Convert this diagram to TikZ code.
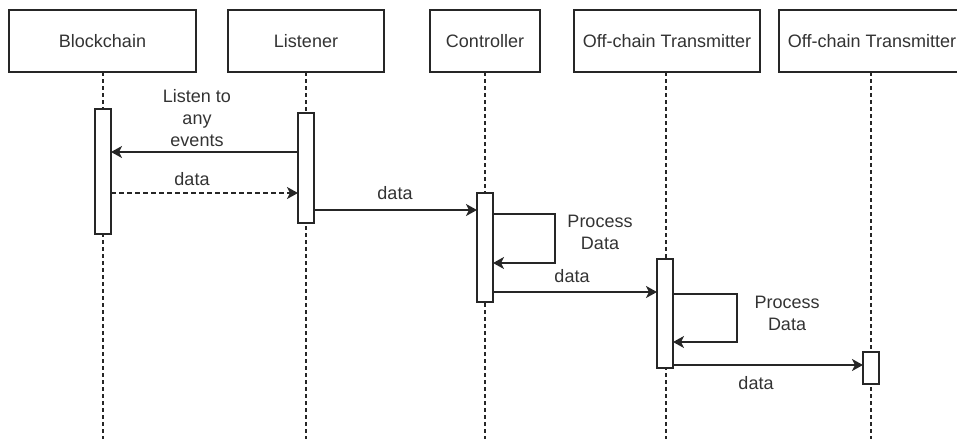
\documentclass[tikz,border=0pt]{standalone}
\usepackage{fontspec}
\setmainfont{Liberation Sans}
\usetikzlibrary{arrows.meta}
\begin{document}
\begin{tikzpicture}[x=1pt,y=-1pt,
  every node/.style={font=\fontsize{18}{22}\selectfont, text=black!80},
  header/.style={draw=black!85, line width=1.3pt, fill=white, minimum height=62pt, inner sep=0pt, outer sep=0pt},
  act/.style={draw=black!85, line width=1.3pt, fill=white, minimum width=16pt, inner sep=0pt, outer sep=0pt},
  life/.style={draw=black!85, line width=1.2pt, dash pattern=on 4pt off 3pt},
  arr/.style={draw=black!85, line width=1.5pt, -{Stealth[length=11pt,width=12pt,inset=3pt]}},
  lbl/.style={align=center, inner sep=0pt}
]
\useasboundingbox (0,0) rectangle (957,439);
\clip (0,0) rectangle (957,439);

% header boxes
\node[header, minimum width=187pt] (h1) at (102.5,41) {Blockchain};
\node[header, minimum width=156pt] (h2) at (306,41) {Listener};
\node[header, minimum width=110pt] (h3) at (485,41) {Controller};
\node[header, minimum width=186pt] (h4) at (667,41) {Off-chain Transmitter};
\node[header, minimum width=186pt] (h5) at (872,41) {Off-chain Transmitter};

% lifelines
\coordinate (e1) at (103,439);
\coordinate (e2) at (306,439);
\coordinate (e3) at (485,439);
\coordinate (e4) at (666,439);
\coordinate (e5) at (871,439);
\draw[life] (h1.south -| e1) -- (e1);
\draw[life] (h2.south -| e2) -- (e2);
\draw[life] (h3.south -| e3) -- (e3);
\draw[life] (h4.south -| e4) -- (e4);
\draw[life] (h5.south -| e5) -- (e5);

% activation bars
\node[act, minimum height=125pt] (a1) at (103,171.5) {};
\node[act, minimum height=110pt] (a2) at (306,168) {};
\node[act, minimum height=109pt] (a3) at (485,247.5) {};
\node[act, minimum height=109pt] (a4) at (665,313.5) {};
\node[act, minimum height=32pt] (a5) at (871,368) {};

% messages
\draw[arr] (a2.west |- 0,152) -- (a1.east |- 0,152);
\node[lbl] (l1) at (197,118) {Listen to\\any\\events};

\draw[arr, dash pattern=on 5pt off 3pt] (a1.east |- 0,193) -- (a2.west |- 0,193);
\node[lbl] (l2) at (192,179) {data};

\draw[arr] (a2.east |- 0,210) -- (a3.west |- 0,210);
\node[lbl] (l3) at (395,193) {data};

\draw[arr] (a3.east |- 0,214) -- ++(62,0) |- (a3.east |- 0,263);
\node[lbl] (l4) at (600,232) {Process\\Data};

\draw[arr] (a3.east |- 0,292) -- (a4.west |- 0,292);
\node[lbl] (l5) at (572,276) {data};

\draw[arr] (a4.east |- 0,294) -- ++(64,0) |- (a4.east |- 0,342);
\node[lbl] (l6) at (787,313) {Process\\Data};

\draw[arr] (a4.east |- 0,365) -- (a5.west |- 0,365);
\node[lbl] (l7) at (756,383) {data};
\end{tikzpicture}
\end{document}
